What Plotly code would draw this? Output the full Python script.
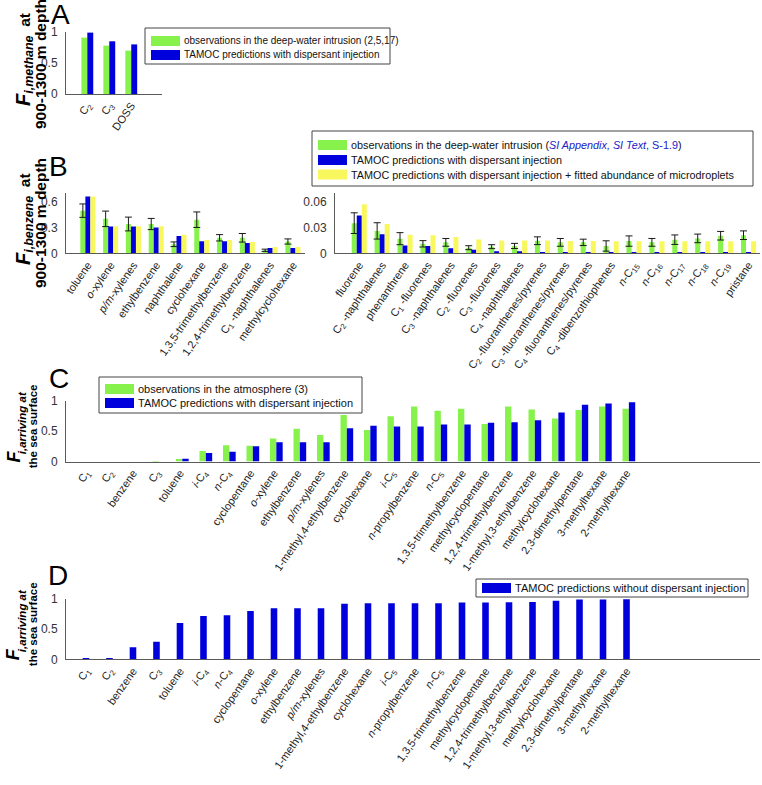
import plotly.graph_objects as go

W, H = 762, 785
FONT = "Liberation Sans, Arial, sans-serif"
GREEN = "#88F24C"
BLUE = "#0000DC"
YELLOW = "#F8F85E"
AXIS = "#5a5a5a"

# ---- panel A: fraction at 900-1300 m relative to methane
a_labels = ["C<sub>2</sub>", "C<sub>3</sub>", "DOSS"]
a_obs = [0.91, 0.78, 0.70]
a_tamoc = [0.99, 0.85, 0.80]
a_ticks = [0, 0.5, 1]

# ---- panel B (left): relative to benzene
b1_labels = ["toluene", "<i>o</i>-xylene", "<i>p/m</i>-xylenes", "ethylbenzene",
             "naphthalene", "cyclohexane", "1,3,5-trimethylbenzene",
             "1,2,4-trimethylbenzene", "C<sub>1</sub> -naphthalenes", "methylcyclohexane"]
b1_obs = [0.495, 0.40, 0.34, 0.34, 0.105, 0.39, 0.18, 0.18, 0.035, 0.137]
b1_err = [0.078, 0.09, 0.08, 0.065, 0.027, 0.09, 0.037, 0.05, 0.013, 0.03]
b1_tamoc = [0.66, 0.31, 0.31, 0.30, 0.20, 0.14, 0.14, 0.12, 0.062, 0.062]
b1_fit = [0.66, 0.315, 0.315, 0.315, 0.215, 0.155, 0.155, 0.13, 0.074, 0.074]
b1_ticks = [0, 0.3, 0.6]

# ---- panel B (right)
b2_labels = ["fluorene", "C<sub>2</sub> -naphthalenes", "phenanthrene", "C<sub>1</sub> -fluorenes",
             "C<sub>3</sub> -naphthalenes", "C<sub>2</sub> -fluorenes", "C<sub>3</sub> -fluorenes",
             "C<sub>4</sub> -naphthalenes", "C<sub>2</sub> -fluoranthenes/pyrenes",
             "C<sub>3</sub> -fluoranthenes/pyrenes", "C<sub>4</sub> -fluoranthenes/pyrenes",
             "C<sub>4</sub> -dibenzothiophenes", "<i>n</i>-C<sub>15</sub>", "<i>n</i>-C<sub>16</sub>",
             "<i>n</i>-C<sub>17</sub>", "<i>n</i>-C<sub>18</sub>", "<i>n</i>-C<sub>19</sub>", "pristane"]
b2_obs = [0.035, 0.026, 0.017, 0.011, 0.0127, 0.0065, 0.0077, 0.0085, 0.0146,
          0.0127, 0.0127, 0.0085, 0.0142, 0.0127, 0.0158, 0.0173, 0.0204, 0.021]
b2_err = [0.012, 0.0095, 0.007, 0.0037, 0.0045, 0.0023, 0.0023, 0.003, 0.0045,
          0.0045, 0.0037, 0.006, 0.006, 0.0045, 0.0055, 0.005, 0.005, 0.005]
b2_tamoc = [0.044, 0.022, 0.009, 0.0085, 0.006, 0.004, 0.0023, 0.0023, 0.0015,
            0.0015, 0.0015, 0.0015, 0.0015, 0.0015, 0.0015, 0.0015, 0.0015, 0.0015]
b2_fit = [0.057, 0.034, 0.0215, 0.021, 0.019, 0.016, 0.015, 0.015, 0.015,
          0.0142, 0.0142, 0.014, 0.014, 0.014, 0.014, 0.014, 0.014, 0.014]
b2_ticks = [0, 0.03, 0.06]

# ---- panels C and D: fraction arriving at the sea surface
cd_labels = ["C<sub>1</sub>", "C<sub>2</sub>", "benzene", "C<sub>3</sub>", "toluene",
             "<i>i</i>-C<sub>4</sub>", "<i>n</i>-C<sub>4</sub>", "cyclopentane", "<i>o</i>-xylene",
             "ethylbenzene", "<i>p/m</i>-xylenes", "1-methyl,4-ethylbenzene", "cyclohexane",
             "<i>i</i>-C<sub>5</sub>", "<i>n</i>-propylbenzene", "<i>n</i>-C<sub>5</sub>",
             "1,3,5-trimethylbenzene", "methylcyclopentane", "1,2,4-trimethylbenzene",
             "1-methyl,3-ethylbenzene", "methylcyclohexane", "2,3-dimethylpentane",
             "3-methylhexane", "2-methylhexane"]
c_obs = [0, 0, 0, 0.003, 0.04, 0.175, 0.27, 0.26, 0.38, 0.54, 0.44, 0.77, 0.52,
         0.75, 0.91, 0.84, 0.87, 0.62, 0.91, 0.86, 0.71, 0.85, 0.91, 0.87]
c_tamoc = [0, 0, 0, 0, 0.045, 0.14, 0.16, 0.25, 0.32, 0.32, 0.32, 0.55, 0.59,
           0.58, 0.58, 0.61, 0.61, 0.64, 0.65, 0.68, 0.81, 0.94, 0.96, 0.98]
d_nodisp = [0.01, 0.02, 0.20, 0.29, 0.60, 0.72, 0.73, 0.80, 0.845, 0.845, 0.845, 0.92,
            0.93, 0.93, 0.93, 0.93, 0.94, 0.94, 0.945, 0.95, 0.97, 0.99, 0.99, 0.995]
cd_ticks = [0, 0.5, 1]


def px(x):
    return x / W


def py(y):
    return 1 - y / H


fig = go.Figure()


def bars(x, y, color, xa, ya, offset, width, err=None):
    tr = go.Bar(x=x, y=y, marker=dict(color=color, line=dict(width=0)),
                offset=offset, width=width, xaxis=xa, yaxis=ya, hoverinfo="skip")
    if err is not None:
        tr.error_y = dict(type="data", array=err, color="#1a1a1a", thickness=1, width=3.5)
    fig.add_trace(tr)


# A
bars(a_labels, a_obs, GREEN, "x", "y", -0.27, 0.27)
bars(a_labels, a_tamoc, BLUE, "x", "y", 0.0, 0.27)
# B left
bars(b1_labels, b1_obs, GREEN, "x2", "y2", -0.33, 0.22, b1_err)
bars(b1_labels, b1_tamoc, BLUE, "x2", "y2", -0.11, 0.22)
bars(b1_labels, b1_fit, YELLOW, "x2", "y2", 0.11, 0.22)
# B right
bars(b2_labels, b2_obs, GREEN, "x3", "y3", -0.33, 0.22, b2_err)
bars(b2_labels, b2_tamoc, BLUE, "x3", "y3", -0.11, 0.22)
bars(b2_labels, b2_fit, YELLOW, "x3", "y3", 0.11, 0.22)
# C
bars(cd_labels, c_obs, GREEN, "x4", "y4", -0.17, 0.27)
bars(cd_labels, c_tamoc, BLUE, "x4", "y4", 0.10, 0.27)
# D
bars(cd_labels, d_nodisp, BLUE, "x5", "y5", -0.14, 0.28)


def xax(x0, x1, rng, anchor):
    return dict(domain=[px(x0), px(x1)], range=rng, anchor=anchor, type="category",
                showline=True, linecolor=AXIS, linewidth=1, showgrid=False, zeroline=False,
                ticks="", tickangle=-55, tickfont=dict(size=11, color="#222", family=FONT),
                automargin=False, fixedrange=True)


def yax(ytop, ybot, rng, vals, anchor):
    return dict(domain=[py(ybot), py(ytop)], range=rng, anchor=anchor,
                showline=True, linecolor=AXIS, linewidth=1, showgrid=False, zeroline=False,
                tickvals=vals, ticktext=[str(v) for v in vals], ticks="",
                ticklabelstandoff=5, tickfont=dict(size=12, color="#333", family=FONT),
                automargin=False, fixedrange=True)


shapes = []
annotations = []


def legend_box(x0, y0, x1, y1, rows, size):
    shapes.append(dict(type="rect", xref="paper", yref="paper", x0=px(x0), x1=px(x1),
                       y0=py(y1), y1=py(y0), line=dict(color="#444", width=1),
                       fillcolor="white", layer="above"))
    for yc, color, text in rows:
        shapes.append(dict(type="rect", xref="paper", yref="paper", x0=px(x0 + 6),
                           x1=px(x0 + 35), y0=py(yc + 5), y1=py(yc - 5),
                           line=dict(width=0), fillcolor=color, layer="above"))
        annotations.append(dict(xref="paper", yref="paper", x=px(x0 + 37), y=py(yc),
                                xanchor="left", yanchor="middle", showarrow=False, text=text,
                                font=dict(size=size, color="#111", family=FONT)))


legend_box(145, 28, 390, 64, [
    (41, GREEN, "observations in the deep-water intrusion (2,5,17)"),
    (55, BLUE, "TAMOC predictions with dispersant injection")], 10)
legend_box(312, 131, 753, 186, [
    (145, GREEN, "observations in the deep-water intrusion (<span style='color:#2020c8'>"
                 "<i>SI Appendix, SI Text</i>, S-1.9</span>)"),
    (160, BLUE, "TAMOC predictions with dispersant injection"),
    (174.5, YELLOW, "TAMOC predictions with dispersant injection + fitted abundance of microdroplets")], 10.8)
legend_box(99, 377, 362, 413, [
    (389, GREEN, "observations in the atmosphere (3)"),
    (403, BLUE, "TAMOC predictions with dispersant injection")], 11)
legend_box(476, 579, 748, 597, [
    (588, BLUE, "TAMOC predictions without dispersant injection")], 11)

# panel letters
for letter, (lx, ly) in {"A": (60, 15), "B": (58, 167), "C": (59, 378), "D": (58, 575)}.items():
    annotations.append(dict(xref="paper", yref="paper", x=px(lx), y=py(ly), text=letter,
                            showarrow=False, xanchor="center", yanchor="middle",
                            font=dict(size=28, color="black", family=FONT)))


def vtext(x, y, text, size):
    annotations.append(dict(xref="paper", yref="paper", x=px(x), y=py(y), text=text,
                            textangle=-90, showarrow=False, xanchor="center", yanchor="middle",
                            font=dict(size=size, color="black", family=FONT, weight="bold")))


def f_sub(sub):
    return ("<span style='font-size:20px'><i>F</i></span>"
            "<sub><span style='font-size:12.5px'><i>" + sub + "</i></span></sub>\u00a0\u00a0at")


vtext(24, 60, f_sub("i,methane"), 15.5)
vtext(41, 64, "900-1300 m depth", 15.5)
vtext(24, 219, f_sub("i,benzene"), 15.5)
vtext(41, 223, "900-1300 m depth", 15.5)
for top, bot in [(401, 461.5), (599, 659.3)]:
    vtext(13, bot - 5, "<i>F</i>", 18)
    vtext(22, (top + bot) / 2 - 8, "<i>i,arriving at</i>", 11.5)
    vtext(33, (top + bot) / 2 - 5, "the sea surface", 11.5)

fig.update_layout(
    width=W, height=H, margin=dict(l=0, r=0, t=0, b=0, autoexpand=False),
    paper_bgcolor="white", plot_bgcolor="white",
    barmode="overlay", showlegend=False,
    font=dict(family=FONT, color="#222"),
    xaxis=xax(66, 162, [-0.97, 3.4], "y"),
    yaxis=yax(32, 94, [0, 1.0], a_ticks, "x"),
    xaxis2=xax(66, 305, [-0.96, 9.53], "y2"),
    yaxis2=yax(193, 253.3, [0, 0.7], b1_ticks, "x2"),
    xaxis3=xax(335, 760, [-1.06, 17.5], "y3"),
    yaxis3=yax(193, 253.3, [0, 0.07], b2_ticks, "x3"),
    xaxis4=xax(66, 760, [-0.85, 28.68], "y4"),
    yaxis4=yax(401, 461.5, [0, 1.0], cd_ticks, "x4"),
    xaxis5=xax(66, 760, [-0.85, 28.68], "y5"),
    yaxis5=yax(599, 659.3, [0, 1.0], cd_ticks, "x5"),
    shapes=shapes, annotations=annotations,
)

# drop the page's default body margin so the figure sits at the window's corner
fig.write_html("out.html", config={"displayModeBar": False},
               post_script="document.body.style.margin = '0';")
